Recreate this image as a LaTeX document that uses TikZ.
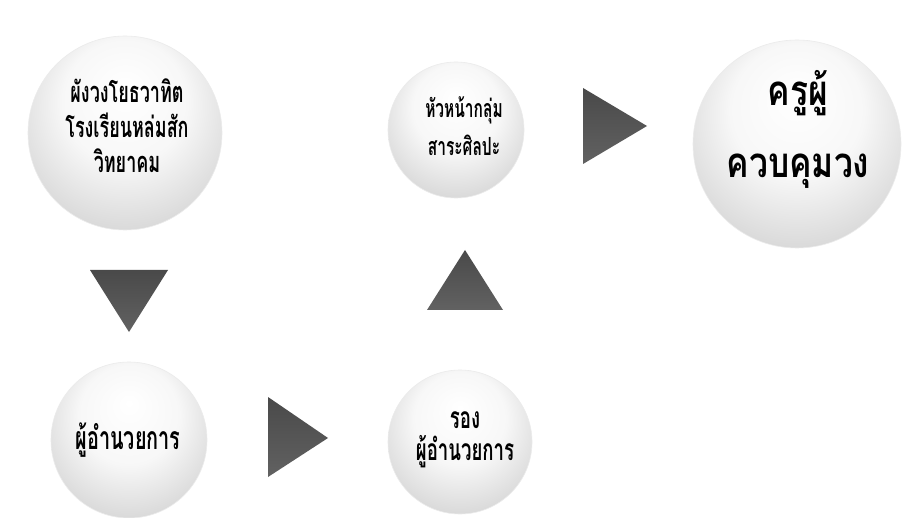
\documentclass[tikz,border=0pt]{standalone}
\usepackage{fontspec}
\newfontfamily\thai[Script=Thai,FakeStretch=0.62]{Loma}
\newfontfamily\thaiw[Script=Thai,FakeStretch=0.8]{Loma}
\pgfdeclareradialshading{softball}{\pgfpoint{0bp}{12bp}}{%
  color(0bp)=(white); color(16bp)=(white!97!black); color(36bp)=(black!20); color(50bp)=(black!34)}
\pgfdeclareverticalshading{trishade}{100bp}{color(0bp)=(black!57); color(100bp)=(black!76)}
\tikzset{
  ball/.style={circle, shading=softball, draw=black!8, line width=0.6pt, inner sep=0pt},
  lbl/.style={align=center, inner sep=0pt, text=black},
  tri/.style={shading=trishade, draw=none},
}
\begin{document}
\begin{tikzpicture}[x=1pt,y=-1pt]
\useasboundingbox[fill=white] (0,0) rectangle (912,518);
% circles
\node[ball, minimum size=194pt] (c1) at (125,133) {};
\node[ball, minimum size=136pt] (c2) at (456,130) {};
\node[ball, minimum size=208pt] (c3) at (797,144) {};
\node[ball, minimum size=156pt] (c4) at (129,440) {};
\node[ball, minimum size=144pt] (c5) at (460,442) {};
% texts
\node[lbl, font=\thai\bfseries\fontsize{29}{35}\selectfont] (c1t) at (127,126)
  {ผังวงโยธวาทิต\\โรงเรียนหล่มสัก\\วิทยาคม};
\node[lbl, font=\thai\bfseries\fontsize{25}{38}\selectfont] (c2t) at (464,126)
  {หัวหน้ากลุ่ม\\สาระศิลปะ};
\node[lbl, font=\thaiw\bfseries\fontsize{42}{72}\selectfont] (c3t) at (798,129)
  {ครูผู้\\ควบคุมวง};
\node[lbl, font=\thai\bfseries\fontsize{32}{34}\selectfont] (c4t) at (128,440)
  {ผู้อำนวยการ};
\node[lbl, font=\thai\bfseries\fontsize{30}{32}\selectfont] (c5t) at (465,440)
  {รอง\\ผู้อำนวยการ};
% triangles (flow markers)
\path[tri] (90,270) -- (168,270) -- (129,332) -- cycle;
\path[tri] (268,397) -- (268,477) -- (328,438) -- cycle;
\path[tri] (427,310) -- (503,310) -- (465,250) -- cycle;
\path[tri] (583,88) -- (583,164) -- (647,126) -- cycle;
\end{tikzpicture}
\end{document}
